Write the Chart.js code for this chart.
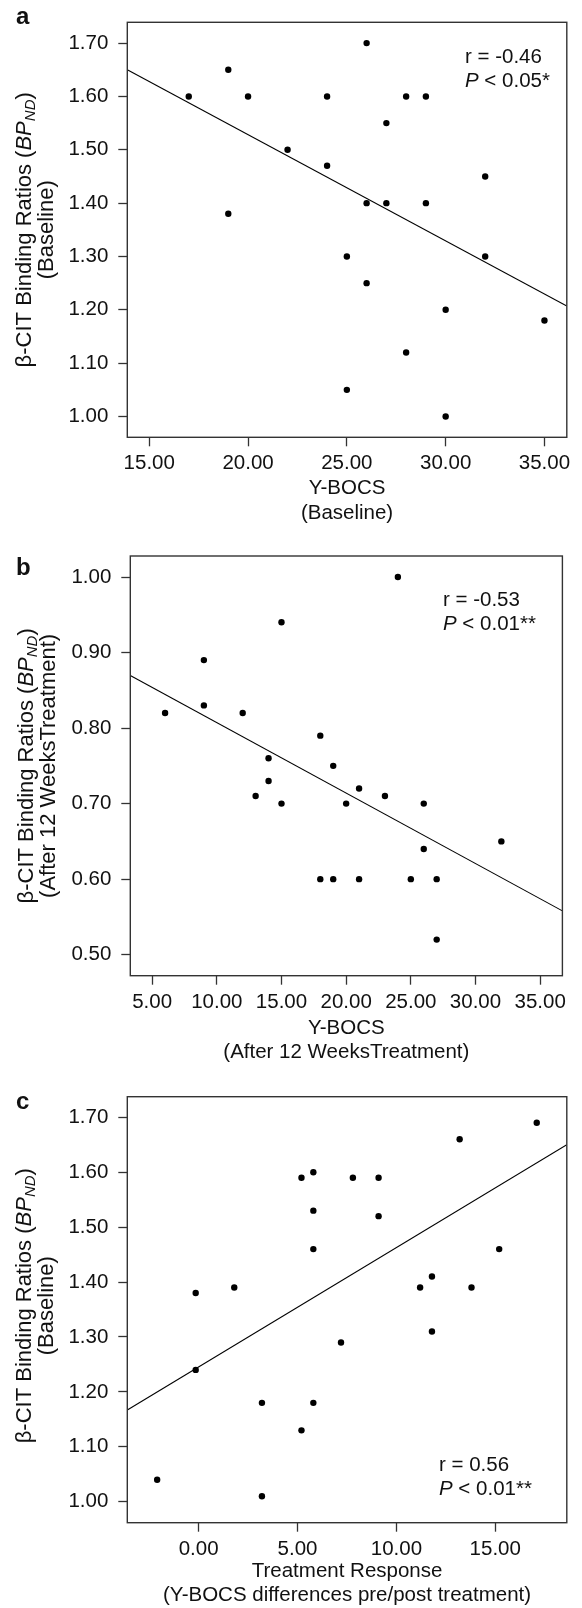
<!DOCTYPE html>
<html>
<head>
<meta charset="utf-8">
<title>beta-CIT binding ratios vs Y-BOCS</title>
<script src="https://cdn.jsdelivr.net/npm/chart.js@4.4.1/dist/chart.umd.min.js"></script>
<style>
    body { margin: 0; background: #fff; }
    #wrap { position: relative; width: 582px; height: 1608px; }
    #wrap canvas { position: absolute; left: 0; }
</style>
</head>
<body>
<div id="wrap">
    <canvas id="chartA" width="582" height="530" style="top:0"></canvas>
    <canvas id="chartB" width="582" height="535" style="top:530px"></canvas>
    <canvas id="chartC" width="582" height="543" style="top:1065px"></canvas>
</div>
<script>
// ---- data: panel a (baseline) ----
var ybocsA = [17, 19, 20, 19, 22, 24, 24, 26, 25, 26, 26, 27, 27, 28, 29, 29, 32, 32, 30, 35, 28, 25, 30];
var bpndA  = [1.60, 1.65, 1.60, 1.38, 1.50, 1.60, 1.47, 1.70, 1.30, 1.40, 1.25, 1.55, 1.40, 1.60, 1.60, 1.40, 1.45, 1.30, 1.20, 1.18, 1.12, 1.05, 1.00];
var fitXA = [13.89, 36.13];
var fitYA = [1.650, 1.207];
var xTicksA = [15, 20, 25, 30, 35];
var yTicksA = [1.0, 1.1, 1.2, 1.3, 1.4, 1.5, 1.6, 1.7];

// ---- data: panel b (after 12 weeks) ----
var ybocsB = [24, 15, 9, 9, 6, 12, 18, 14, 19, 14, 13, 15, 21, 20, 23, 26, 32, 26, 18, 19, 21, 25, 27, 27];
var bpndB  = [1.00, 0.94, 0.89, 0.83, 0.82, 0.82, 0.79, 0.76, 0.75, 0.73, 0.71, 0.70, 0.72, 0.70, 0.71, 0.70, 0.65, 0.64, 0.60, 0.60, 0.60, 0.60, 0.60, 0.52];
var fitXB = [3.31, 36.72];
var fitYB = [0.8695, 0.558];
var xTicksB = [5, 10, 15, 20, 25, 30, 35];
var yTicksB = [0.5, 0.6, 0.7, 0.8, 0.9, 1.0];

// ---- data: panel c (treatment response) ----
var responseC = [17.1, 13.2, 5.8, 5.2, 7.8, 9.1, 5.8, 9.1, 5.8, 15.2, 11.2, 11.8, 13.8, 1.8, -0.15, 11.8, 7.2, -0.15, 3.2, 5.8, 5.2, -2.1, 3.2];
var bpndC     = [1.69, 1.66, 1.60, 1.59, 1.59, 1.59, 1.53, 1.52, 1.46, 1.46, 1.39, 1.41, 1.39, 1.39, 1.38, 1.31, 1.29, 1.24, 1.18, 1.18, 1.13, 1.04, 1.01];
var fitXC = [-3.61, 18.62];
var fitYC = [1.167, 1.650];
var xTicksC = [0, 5, 10, 15];
var yTicksC = [1.0, 1.1, 1.2, 1.3, 1.4, 1.5, 1.6, 1.7];

var FAMILY = '"Liberation Sans", Arial, Helvetica, sans-serif';
var INK = '#111';
var FS = 20.5;

function fontFor(style, size) {
    if (style === 'i') return 'italic ' + size + 'px ' + FAMILY;
    if (style === 'sub') return 'italic ' + Math.round(size * 0.7) + 'px ' + FAMILY;
    return size + 'px ' + FAMILY;
}

// draw a run of text pieces with mixed styles
function drawRich(ctx, parts, x, y, align, size) {
    size = size || FS;
    var widths = parts.map(function (p) { ctx.font = fontFor(p[1], size); return ctx.measureText(p[0]).width; });
    var total = widths.reduce(function (a, b) { return a + b; }, 0);
    var cx = align === 'center' ? x - total / 2 : x;
    parts.forEach(function (p, i) {
        ctx.font = fontFor(p[1], size);
        ctx.fillText(p[0], cx, y + (p[1] === 'sub' ? size * 0.25 : 0));
        cx += widths[i];
    });
}

function makeDecor(cfg) {
    return {
        id: 'decor',
        afterDraw: function (chart) {
            var ctx = chart.ctx, a = chart.chartArea;
            ctx.save();
            // frame
            ctx.strokeStyle = '#333';
            ctx.lineWidth = 1.4;
            ctx.strokeRect(a.left, a.top, a.right - a.left, a.bottom - a.top);
            ctx.fillStyle = INK;
            // panel letter
            ctx.font = 'bold 24px ' + FAMILY;
            ctx.textBaseline = 'alphabetic';
            ctx.textAlign = 'left';
            ctx.fillText(cfg.letter, 16, cfg.letterY);
            // stats
            drawRich(ctx, [[cfg.r, '']], cfg.statX, cfg.statY);
            drawRich(ctx, [['P', 'i'], [' < ' + cfg.p, '']], cfg.statX, cfg.statY + 24);
            // y title (rotated, two lines)
            var cy = (a.top + a.bottom) / 2 + cfg.titleDy;
            ctx.textBaseline = 'middle';
            ctx.translate(cfg.titleX, cy);
            ctx.rotate(-Math.PI / 2);
            drawRich(ctx, [['\u03b2-CIT Binding Ratios (', ''], ['BP', 'i'], ['ND', 'sub'], [')', '']], 0, 0, 'center', 22);
            drawRich(ctx, [[cfg.yTitle2, '']], 0, 22, 'center', 22);
            ctx.restore();
        }
    };
}

function makePanel(id, xs, ys, fitX, fitY, xTicks, yTicks, lay, cfg) {
    var tickFont = { family: FAMILY, size: FS, lineHeight: 1.2 };
    new Chart(document.getElementById(id), {
        type: 'scatter',
        data: {
            datasets: [{
                data: xs.map(function (x, i) { return { x: x, y: ys[i] }; }),
                backgroundColor: '#000',
                borderColor: '#000',
                pointRadius: 3.2,
                pointBorderWidth: 0
            }, {
                type: 'line',
                data: fitX.map(function (x, i) { return { x: x, y: fitY[i] }; }),
                borderColor: '#000',
                borderWidth: 1.1,
                pointRadius: 0,
                fill: false
            }]
        },
        options: {
            responsive: false,
            animation: false,
            layout: { padding: { top: lay.top, right: lay.right, left: 0, bottom: 0 } },
            plugins: { legend: { display: false }, tooltip: { enabled: false } },
            scales: {
                x: {
                    type: 'linear',
                    min: fitX[0], max: fitX[1],
                    afterBuildTicks: function (s) { s.ticks = xTicks.map(function (v) { return { value: v }; }); },
                    afterFit: function (s) { s.height = lay.xh; },
                    grid: { drawOnChartArea: false, tickLength: 9, tickColor: '#333', tickWidth: 1.3 },
                    border: { display: false },
                    ticks: { padding: 5, color: INK, font: tickFont, maxRotation: 0, autoSkip: false,
                             callback: function (v) { return v.toFixed(2); } },
                    title: { display: true, text: cfg.xTitle, color: INK, font: tickFont,
                             padding: { top: 0, bottom: lay.titlePad } }
                },
                y: {
                    min: lay.ymin, max: lay.ymax,
                    afterBuildTicks: function (s) { s.ticks = yTicks.map(function (v) { return { value: v }; }); },
                    afterFit: function (s) { s.width = lay.yw; },
                    grid: { drawOnChartArea: false, tickLength: 9, tickColor: '#333', tickWidth: 1.3 },
                    border: { display: false },
                    ticks: { padding: 10, color: INK, font: tickFont, autoSkip: false,
                             callback: function (v) { return v.toFixed(2); } }
                }
            }
        },
        plugins: [makeDecor(cfg)]
    });
}

// ---- Panel a ----
makePanel('chartA', ybocsA, bpndA, fitXA, fitYA, xTicksA, yTicksA,
    { top: 9.5, right: 15.2, yw: 127.3, xh: 92.7, ymin: 0.961, ymax: 1.739, titlePad: 4.4 },
    { letter: 'a', letterY: 23.5, r: 'r = -0.46', p: '0.05*', statX: 465, statY: 63.3,
      titleX: 25, titleDy: 0, yTitle2: '(Baseline)', xTitle: ['Y-BOCS', '(Baseline)'] });

// ---- Panel b ----
makePanel('chartB', ybocsB, bpndB, fitXB, fitYB, xTicksB, yTicksB,
    { top: 26, right: 19.6, yw: 130.3, xh: 89.3, ymin: 0.4722, ymax: 1.0278, titlePad: 0 },
    { letter: 'b', letterY: 45, r: 'r = -0.53', p: '0.01**', statX: 443, statY: 76,
      titleX: 27, titleDy: 0, yTitle2: '(After 12 WeeksTreatment)', xTitle: ['Y-BOCS', '(After 12 WeeksTreatment)'] });

// ---- Panel c ----
makePanel('chartC', responseC, bpndC, fitXC, fitYC, xTicksC, yTicksC,
    { top: 31.7, right: 15.2, yw: 127.3, xh: 85.3, ymin: 0.9618, ymax: 1.7375, titlePad: 0 },
    { letter: 'c', letterY: 44, r: 'r = 0.56', p: '0.01**', statX: 439, statY: 406,
      titleX: 25, titleDy: -4, yTitle2: '(Baseline)', xTitle: ['Treatment Response', '(Y-BOCS differences pre/post treatment)'] });
</script>
</body>
</html>
